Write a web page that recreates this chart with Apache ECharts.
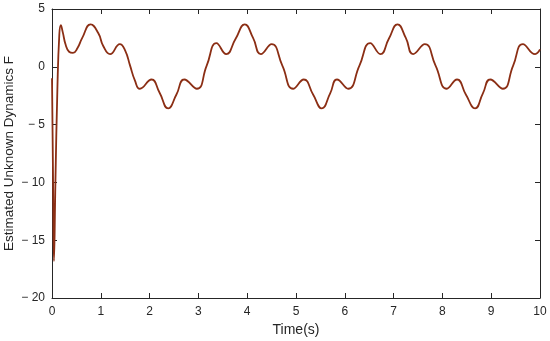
<!DOCTYPE html>
<html lang="en">
<head>
    <meta charset="UTF-8">
    <title>Estimated Unknown Dynamics F</title>
    <script src="https://cdn.jsdelivr.net/npm/echarts@6/dist/echarts.min.js"></script>
</head>
<body style="margin:0; background:#fff">
    <div id="chart" style="width:550px; height:341px"></div>
    <script>
        // values
        const timeVals = [0, 0.02, 0.04, 0.07, 0.11, 0.15, 0.18, 0.22, 0.28, 0.35, 0.43, 0.52, 0.62, 0.79, 0.95, 1.05, 1.19, 1.39, 1.5, 1.6, 1.7, 1.8,
            2.04, 2.2, 2.38, 2.55, 2.71, 2.97, 3.17, 3.37, 3.57, 3.76, 3.95, 4.12, 4.28, 4.5, 4.72, 4.94, 5.16, 5.35, 5.53, 5.7, 5.84,
            6.07, 6.3, 6.52, 6.73, 6.9, 7.08, 7.25, 7.4, 7.64, 7.86, 8.09, 8.3, 8.48, 8.67, 8.83, 8.98, 9.24, 9.45, 9.65, 9.9, 10];
        const estF = [-1, -9, -16.8, -10, -2, 2.8, 3.6, 3.0, 1.9, 1.3, 1.2, 1.6, 2.5, 3.67, 2.9, 1.8, 1.1, 1.97, 1.4, 0.1, -1.2, -1.9,
            -1.1, -2.2, -3.6, -2.4, -1.1, -1.9, 0.1, 2.05, 1.1, 2.4, 3.67, 2.5, 1.1, 1.97, 0.1, -1.9, -1.1, -2.4, -3.6, -2.3, -1.1,
            -1.9, 0.1, 2.05, 1.1, 2.4, 3.67, 2.5, 1.1, 1.97, 0.1, -1.9, -1.1, -2.4, -3.6, -2.3, -1.1, -1.9, 0.1, 1.97, 1.1, 1.5];

        const chart = echarts.init(document.getElementById('chart'));
        const axisCol = '#262626';
        const font = 'Liberation Sans, Arial, sans-serif';

        const frameAxis = {
            axisLine: { show: true, onZero: false, lineStyle: { color: axisCol, width: 1 } },
            axisTick: { show: true, inside: true, length: 5, lineStyle: { color: axisCol } },
            splitLine: { show: false }
        };
        const minusFmt = v => (v < 0 ? '\u2212 ' + Math.abs(v) : String(v));

        chart.setOption({
            animation: false,
            grid: { left: 52, right: 10, top: 9, bottom: 43, containLabel: false, outerBoundsMode: 'none' },
            xAxis: [
                Object.assign({
                    type: 'value', min: 0, max: 10, interval: 1,
                    name: 'Time(s)', nameLocation: 'middle', nameGap: 25, nameMoveOverlap: false,
                    nameTextStyle: { color: axisCol, fontSize: 14, fontFamily: font },
                    axisLabel: { color: axisCol, fontSize: 12, fontFamily: font, margin: 8 }
                }, frameAxis),
                Object.assign({
                    type: 'value', min: 0, max: 10, interval: 1, position: 'top',
                    axisLabel: { show: false }
                }, frameAxis)
            ],
            yAxis: [
                Object.assign({
                    type: 'value', min: -20, max: 5, interval: 5,
                    name: 'Estimated Unknown Dynamics F', nameLocation: 'middle', nameGap: 36, nameMoveOverlap: false,
                    nameTextStyle: { color: axisCol, fontSize: 13.5, fontFamily: font },
                    axisLabel: { color: axisCol, fontSize: 12, fontFamily: font, margin: 7, formatter: minusFmt }
                }, frameAxis),
                Object.assign({
                    type: 'value', min: -20, max: 5, interval: 5, position: 'right',
                    axisLabel: { show: false }
                }, frameAxis)
            ],
            series: [{
                type: 'line',
                data: timeVals.map((t, i) => [t, estF[i]]),
                smooth: 0.5,
                showSymbol: false,
                lineStyle: { color: '#8B2E14', width: 1.8 }
            }]
        });
    </script>
</body>
</html>
